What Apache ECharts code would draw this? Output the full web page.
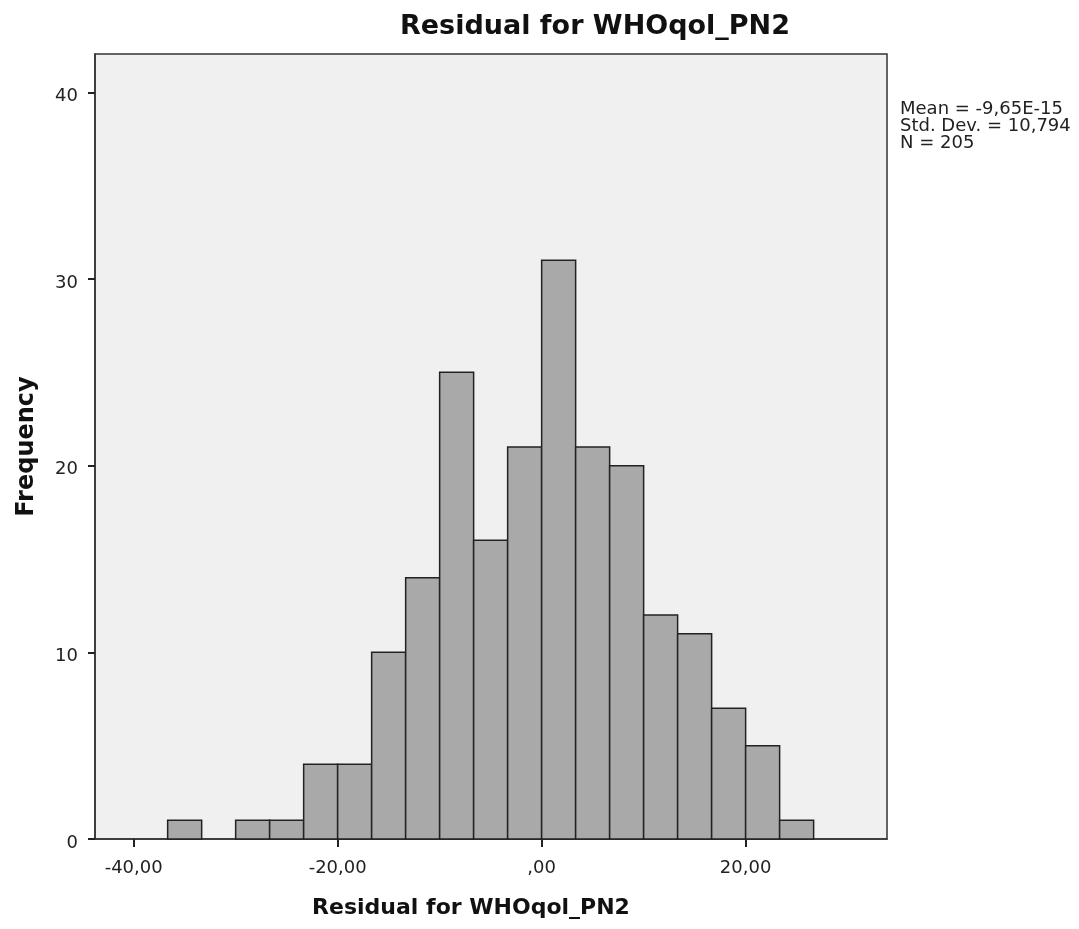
<!DOCTYPE html>
<html>
<head>
<meta charset="utf-8">
<script src="https://cdn.jsdelivr.net/npm/echarts@6/dist/echarts.min.js"></script>
<style>html,body{margin:0;padding:0;background:#fff}#c{width:1079px;height:929px}</style>
</head>
<body>
<div id="c"></div>
<script>
// Histogram bins (lower edge, upper edge) and frequencies
const binLow  = [-36.667, -33.333, -30.000, -26.667, -23.333, -20.000, -16.667, -13.333, -10.000, -6.667, -3.333, 0.000, 3.333, 6.667, 10.000, 13.333, 16.667, 20.000, 23.333];
const binHigh = [-33.333, -30.000, -26.667, -23.333, -20.000, -16.667, -13.333, -10.000, -6.667, -3.333, 0.000, 3.333, 6.667, 10.000, 13.333, 16.667, 20.000, 23.333, 26.667];
const counts  = [1, 0, 1, 1, 4, 4, 10, 14, 25, 16, 21, 31, 21, 20, 12, 11, 7, 5, 1];
const xTicks  = [-40, -20, 0, 20];
const yTicks  = [0, 10, 20, 30, 40];
const statsLines = ['Mean = -9,65E-15', 'Std. Dev. = 10,794', 'N = 205'];

const data = binLow.map((lo, i) => [lo, binHigh[i], counts[i]]).filter(d => d[2] > 0);

function fmtX(v) {
  let s = Math.abs(v).toFixed(2).replace('.', ',');
  if (Math.abs(v) < 1e-9) s = ',00';
  return (v < 0 ? '-' : '') + s;
}

const FONT = 'DejaVu Sans';
const chart = echarts.init(document.getElementById('c'));
chart.setOption({
  backgroundColor: '#ffffff',
  animation: false,
  title: {
    text: 'Residual for WHOqol_PN2',
    left: 590, top: 8, textAlign: 'center',
    textStyle: { fontFamily: FONT, fontWeight: 'bold', fontSize: 27, color: '#111' }
  },
  grid: { left: 95, top: 54, width: 792, height: 785, show: true, backgroundColor: '#f0f0f0', borderColor: '#333', borderWidth: 1.5 },
  xAxis: {
    type: 'value', min: -43.79, max: 33.86,
    name: 'Residual for WHOqol_PN2', nameLocation: 'middle', nameGap: 58, nameMoveOverlap: false,
    nameTextStyle: { fontFamily: FONT, fontWeight: 'bold', fontSize: 22, color: '#111', padding: [0, 40, 0, 0] },
    axisLine: { show: true, onZero: false, lineStyle: { color: '#333', width: 1.5 } },
    axisTick: { show: true, length: 8, lineStyle: { color: '#222', width: 2 }, customValues: xTicks },
    axisLabel: { customValues: xTicks, formatter: fmtX, margin: 20, fontFamily: FONT, fontSize: 18, color: '#222' },
    splitLine: { show: false }
  },
  yAxis: {
    type: 'value', min: 0, max: 42.05,
    name: 'Frequency', nameLocation: 'middle', nameGap: 56, nameRotate: 90,
    nameTextStyle: { fontFamily: FONT, fontWeight: 'bold', fontSize: 24, color: '#111' },
    axisLine: { show: true, onZero: false, lineStyle: { color: '#333', width: 1.5 } },
    axisTick: { show: true, length: 7, lineStyle: { color: '#222', width: 2 }, customValues: yTicks },
    axisLabel: {
      customValues: yTicks, margin: 17,
      formatter: function (v) { return '{a|' + v + '}'; },
      rich: { a: { fontFamily: FONT, fontSize: 18, color: '#222', padding: [8, 0, 0, 0] } }
    },
    splitLine: { show: false }
  },
  graphic: [{
    type: 'text', left: 900, top: 100,
    style: { text: statsLines.join('\n'), fontFamily: FONT, fontSize: 18, lineHeight: 17, fill: '#222' }
  }],
  series: [{
    type: 'custom',
    data: data,
    encode: { x: [0, 1], y: 2 },
    renderItem: function (params, api) {
      const p0 = api.coord([api.value(0), 0]);
      const p1 = api.coord([api.value(1), api.value(2)]);
      return {
        type: 'rect',
        shape: { x: p0[0], y: p1[1], width: p1[0] - p0[0], height: p0[1] - p1[1] },
        style: { fill: '#a9a9a9', stroke: '#222', lineWidth: 1.5 }
      };
    }
  }]
});
</script>
</body>
</html>
